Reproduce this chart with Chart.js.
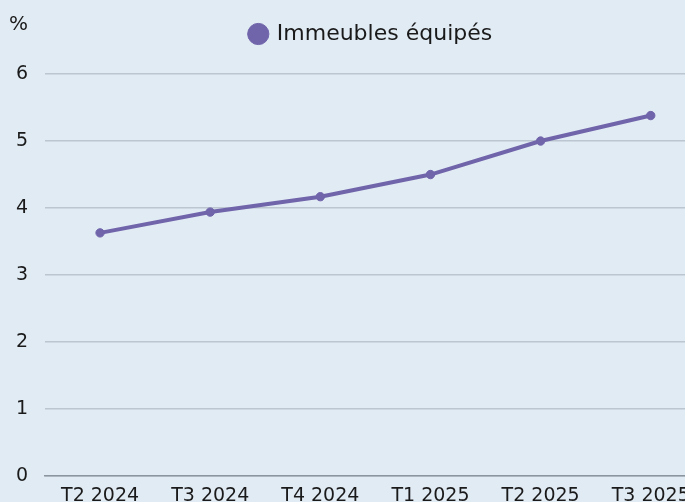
<!DOCTYPE html>
<html><head><meta charset="utf-8">
<script src="https://cdn.jsdelivr.net/npm/chart.js@4/dist/chart.umd.min.js"></script>
<style>
html,body{margin:0;padding:0;background:#e1ebf4;overflow:hidden;}
#wrap{position:relative;width:711px;height:515px;}
</style></head><body>
<div id="wrap"><canvas id="c"></canvas></div>
<script>
const categories = ["T2 2024","T3 2024","T4 2024","T1 2025","T2 2025","T3 2025"];
const seriesName = "Immeubles équipés";
const values = [3.63, 3.94, 4.17, 4.50, 5.00, 5.38];
const yTicks = [0,1,2,3,4,5,6];
const unitLabel = "%";

const FONT = "'DejaVu Sans', sans-serif";
const layoutPlugin = {
  id:'layoutTweak',
  beforeInit(chart){
    const lg = chart.legend;
    if(lg){ const fit = lg.fit; lg.fit = function(){ fit.call(this); this.height += 19; }; }
  },
  afterLayout(chart){ if(chart.legend){ chart.legend.left += 32; } },
  afterDraw(chart){
    const ctx = chart.ctx;
    ctx.save();
    ctx.font = "20px " + FONT;
    ctx.fillStyle = "#1a1a1a";
    ctx.textAlign = "left"; ctx.textBaseline = "middle";
    ctx.fillText(unitLabel, 9, 25);
    ctx.restore();
  }
};
new Chart(document.getElementById('c'), {
  type:'line',
  data:{labels:categories,datasets:[{label:seriesName,data:values,borderColor:'#7064aa',backgroundColor:'#7064aa',borderWidth:4,pointRadius:4.2,pointBorderWidth:1,pointHoverRadius:4.2,tension:0}]},
  options:{
    responsive:true, maintainAspectRatio:false, animation:false,
    layout:{padding:{top:13,left:0,right:0,bottom:0}},
    plugins:{
      legend:{position:'top',labels:{usePointStyle:true,pointStyle:'circle',boxWidth:15,boxHeight:15,padding:10,color:'#1a1a1a',font:{family:FONT,size:22}}},
      tooltip:{enabled:false}
    },
    scales:{
      x:{offset:true,grid:{display:false,drawTicks:false},border:{display:true,color:'#8a959f',width:1.5},
         ticks:{color:'#1a1a1a',padding:8,maxRotation:0,autoSkip:false,font:{family:FONT,size:19}}},
      y:{min:0,max:6,afterBuildTicks(s){s.ticks=yTicks.map(v=>({value:v}));},
         afterFit(s){s.width=45;},
         grid:{color:'#bcc6d0',lineWidth:1.5,drawTicks:false},border:{display:false},
         ticks:{color:'#1a1a1a',padding:17,font:{family:FONT,size:19}}}
    }
  },
  plugins:[layoutPlugin]
});
</script></body></html>
